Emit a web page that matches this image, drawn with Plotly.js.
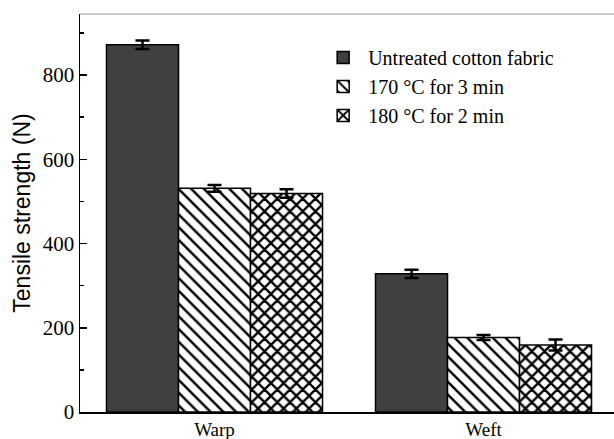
<!DOCTYPE html>
<html><head><meta charset="utf-8">
<script src="https://cdn.plot.ly/plotly-3.0.1.min.js"></script>
<style>html,body{margin:0;padding:0;background:#fff}</style>
</head><body>
<div id="chart" style="width:614px;height:439px"></div>
<script>
const categories = ["Warp", "Weft"];
const seriesNames = ["Untreated cotton fabric", "170 \u00B0C for 3 min", "180 \u00B0C for 2 min"];
const untreated = [872, 328];
const untreatedErr = [10, 10];
const t170 = [531, 177];
const t170Err = [8, 6];
const t180 = [519, 159];
const t180Err = [10, 13];

const SERIF = 'Liberation Serif';
const errStyle = (arr) => ({type: 'data', array: arr, visible: true, color: '#000', thickness: 2.5, width: 7});
const line = {color: '#000', width: 1.5};

const traces = [
  {type: 'bar', name: seriesNames[0], x: categories, y: untreated, error_y: errStyle(untreatedErr),
   marker: {color: '#404040', line: line}},
  {type: 'bar', name: seriesNames[1], x: categories, y: t170, error_y: errStyle(t170Err),
   marker: {color: '#fff', line: line, pattern: {shape: '\\', fgcolor: '#000', bgcolor: '#fff', size: 9, solidity: 0.27}}},
  {type: 'bar', name: seriesNames[2], x: categories, y: t180, error_y: errStyle(t180Err),
   marker: {color: '#fff', line: line, pattern: {shape: 'x', fgcolor: '#000', bgcolor: '#fff', size: 9, solidity: 0.45}}}
];

const layout = {
  width: 614, height: 439,
  margin: {l: 80, r: 0, t: 14, b: 27},
  paper_bgcolor: '#fff', plot_bgcolor: '#fff',
  barmode: 'group', bargap: 0.197, bargroupgap: 0,
  showlegend: true,
  legend: {x: 0.446, y: 0.94, xanchor: 'left', yanchor: 'top', bgcolor: 'rgba(0,0,0,0)',
           font: {family: SERIF, size: 20, color: '#000'},
           tracegroupgap: 0, itemwidth: 40},
  xaxis: {range: [-0.5, 1.485], showline: true, linecolor: '#000', linewidth: 1.5, ticks: '',
          showgrid: false, zeroline: false,
          tickfont: {family: SERIF, size: 19, color: '#000'}},
  yaxis: {range: [0, 945], showline: true, linecolor: '#000', linewidth: 1.5,
          ticks: 'inside', ticklen: 7, tickcolor: '#000', tickwidth: 1.5,
          tickvals: [0, 200, 400, 600, 800], showgrid: false, zeroline: false,
          minor: {tickvals: [100, 300, 500, 700, 900], ticks: 'inside', ticklen: 4, tickcolor: '#000', tickwidth: 1.5},
          tickfont: {family: SERIF, size: 21, color: '#000'},
          title: {text: 'Tensile strength (N)', standoff: 5,
                  font: {family: 'Liberation Sans', size: 23, color: '#000'}}},
  shapes: [{type: 'line', xref: 'paper', yref: 'paper', x0: 0, x1: 1, y0: 1, y1: 1,
            line: {color: '#999', width: 1}}]
};

Plotly.newPlot('chart', traces, layout, {displayModeBar: false, staticPlot: true});
</script>
</body></html>
